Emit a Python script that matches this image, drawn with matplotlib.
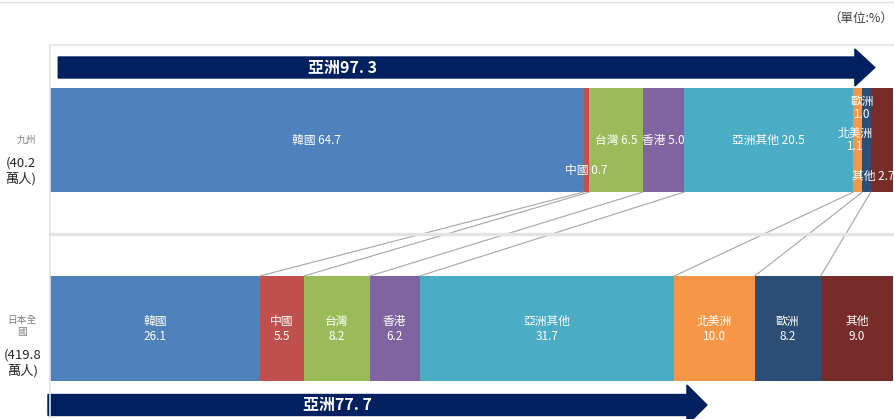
import matplotlib.pyplot as plt
from matplotlib.patches import FancyArrow, ConnectionPatch
from matplotlib.lines import Line2D

plt.rcParams['font.family'] = ['Noto Sans CJK TC', 'DejaVu Sans']

# datos (%)
categories = ['韓國', '中國', '台灣', '香港', '亞洲其他', '北美洲', '歐洲', '其他']
kyushu = [64.7, 0.7, 6.5, 5.0, 20.5, 1.1, 1.0, 2.7]
japan = [26.1, 5.5, 8.2, 6.2, 31.7, 10.0, 8.2, 9.0]
asia_kyushu = 97.3
asia_japan = 77.7
colors = ['#4F81BD', '#C0504D', '#9BBB59', '#8064A2', '#4BACC6', '#F79646', '#2C4D75', '#772C2A']

W, H = 895, 419
fig = plt.figure(figsize=(W / 100, H / 100), dpi=100)


def rect(x0, y0, x1, y1):
    return [x0 / W, 1 - y1 / H, (x1 - x0) / W, (y1 - y0) / H]


# lineas de fondo
grid = '#E3E3E3'
fig.add_artist(Line2D([0, 1], [1 - 2 / H, 1 - 2 / H], color=grid, lw=1))
fig.add_artist(Line2D([50 / W, 1], [1 - 45 / H, 1 - 45 / H], color=grid, lw=1.2))
fig.add_artist(Line2D([50 / W, 50 / W], [0, 1 - 45 / H], color=grid, lw=1.2))
fig.add_artist(Line2D([50 / W, 1], [1 - 234 / H, 1 - 234 / H], color=grid, lw=2.5))

ax_top = fig.add_axes(rect(50, 45, 893, 234))
ax_bot = fig.add_axes(rect(50, 234, 893, 419))
ax_top.set_xlim(0, sum(kyushu))
ax_top.set_ylim(234, 45)
ax_bot.set_xlim(0, sum(japan))
ax_bot.set_ylim(419, 234)
for ax in (ax_top, ax_bot):
    ax.axis('off')

# barras apiladas
left = 0
cum_top = []
# desplazamientos de etiquetas pequeñas (x en datos, y en px)
top_off = {'中國': (0, 30), '北美洲': (-0.3, 0), '歐洲': (-0.5, -32), '其他': (-1.0, 36)}
for cat, v, c in zip(categories, kyushu, colors):
    ax_top.barh(140, v, left=left, height=104, color=c, edgecolor='none')
    dx, dy = top_off.get(cat, (0, 0))
    if cat in ('北美洲', '歐洲'):
        txt = f'{cat}\n{v:.1f}'
    else:
        txt = f'{cat} {v:.1f}'
    ax_top.text(left + v / 2 + dx, 140 + dy, txt, ha='center', va='center',
                color='white', fontsize=8.5, linespacing=1.0)
    left += v
    cum_top.append(left)

left = 0
cum_bot = []
for cat, v, c in zip(categories, japan, colors):
    ax_bot.barh(328.5, v, left=left, height=105, color=c, edgecolor='none')
    ax_bot.text(left + v / 2, 328.5, f'{cat}\n{v:.1f}', ha='center', va='center',
                color='white', fontsize=8.5, linespacing=1.2)
    left += v
    cum_bot.append(left)

# lineas de conexion
for a, b in zip(cum_top[:-1], cum_bot[:-1]):
    con = ConnectionPatch(xyA=(a, 192), coordsA=ax_top.transData,
                          xyB=(b, 276), coordsB=ax_bot.transData,
                          color='#A6A6A6', lw=0.8)
    fig.add_artist(con)


def asia_label(v):
    return '亞洲' + f'{v:.1f}'.replace('.', '. ')


# flechas de Asia
navy = '#002060'
ax_top.add_patch(FancyArrow(1.0, 67.5, 99.0, 0, width=21, head_width=37, head_length=2.42,
                            length_includes_head=True, color=navy, clip_on=False))
ax_top.text(35.5, 67.5, asia_label(asia_kyushu), ha='center', va='center',
            color='white', fontsize=11.5, fontweight='bold')
ax_bot.add_patch(FancyArrow(-0.25, 405, 82.0, 0, width=21, head_width=40, head_length=2.49,
                            length_includes_head=True, color=navy, clip_on=False))
ax_bot.text(35.8, 405, asia_label(asia_japan), ha='center', va='center',
            color='white', fontsize=11.5, fontweight='bold')

# etiquetas izquierda
fig.text(26 / W, 1 - 140 / H, '九州', ha='center', va='center', fontsize=7, color='#7F7F7F')
fig.text(21 / W, 1 - 171 / H, '(40.2\n萬人)', ha='center', va='center', fontsize=9.5,
         color='#262626', linespacing=1.2)
fig.text(22 / W, 1 - 326 / H, '日本全\n國', ha='center', va='center', fontsize=7,
         color='#7F7F7F', linespacing=1.3)
fig.text(23 / W, 1 - 363 / H, '(419.8\n萬人)', ha='center', va='center', fontsize=9.5,
         color='#262626', linespacing=1.2)

fig.text(893 / W, 1 - 18 / H, '（單位:%）', ha='right', va='center', fontsize=9, color='#404040')

fig.savefig('out.png', dpi=100)
